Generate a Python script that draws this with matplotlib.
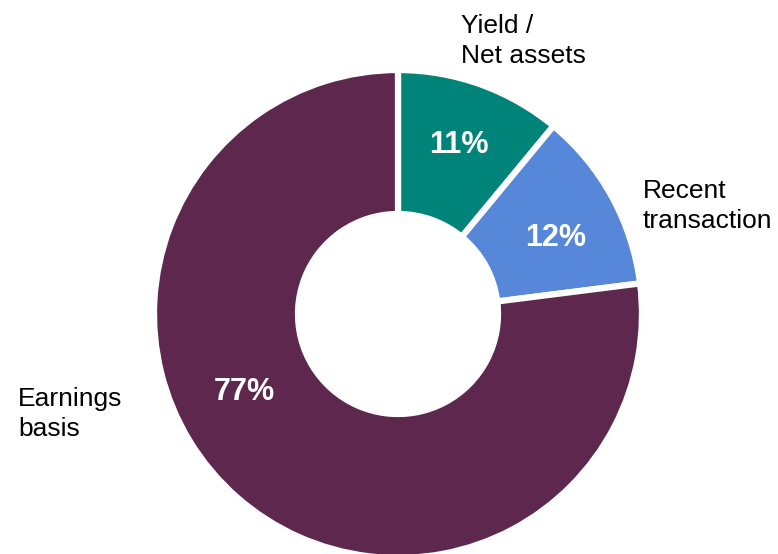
import numpy as np
import matplotlib.pyplot as plt

plt.rcParams['font.family'] = ['Liberation Sans', 'DejaVu Sans']

# Valuation basis split
categories = ["Yield /\nNet assets", "Recent\ntransaction", "Earnings\nbasis"]
shares = [11, 12, 77]
colors = ["#00847A", "#5787D8", "#5E284E"]

fig = plt.figure(figsize=(7.78, 5.54), dpi=100)
ax = fig.add_axes([0, 0, 1, 1])

cx, cy, r = 398, 240, 244
wedges, _ = ax.pie(shares, colors=colors, startangle=90, counterclock=False,
                   center=(cx, cy), radius=r, frame=True,
                   wedgeprops=dict(width=144, edgecolor="white", linewidth=4.5))
ax.set_xlim(0, 778)
ax.set_ylim(0, 554)
ax.set_aspect("equal")
ax.axis("off")

# percentage labels inside the ring (angle in degrees, distance from centre)
pct_pos = [(70.2, 180), (25.7, 175), (207, 172)]
for val, (ang, dist) in zip(shares, pct_pos):
    a = np.deg2rad(ang)
    ax.text(cx + dist * np.cos(a), cy + dist * np.sin(a), f"{val}%",
            ha="center", va="center", color="white", fontsize=22, fontweight="bold")

# category names outside the ring
name_pos = [(461, 513), (643, 348), (18, 140)]
for name, (x, y) in zip(categories, name_pos):
    ax.text(x, y, name, ha="left", va="center", fontsize=19, color="black",
            linespacing=1.3)

fig.savefig("out.png", dpi=100)
